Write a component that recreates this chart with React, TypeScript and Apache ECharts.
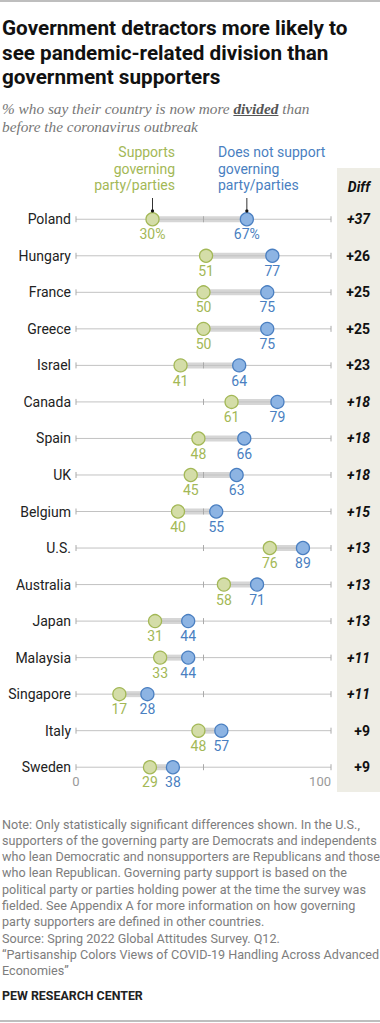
import React, { useEffect, useRef } from "react";
import * as echarts from "echarts";

const countries = ["Poland", "Hungary", "France", "Greece", "Israel", "Canada", "Spain", "UK", "Belgium", "U.S.", "Australia", "Japan", "Malaysia", "Singapore", "Italy", "Sweden"];
const supporters = [30, 51, 50, 50, 41, 61, 48, 45, 40, 76, 58, 31, 33, 17, 48, 29];
const nonSupporters = [67, 77, 75, 75, 64, 79, 66, 63, 55, 89, 71, 44, 44, 28, 57, 38];
const diffs = ["+37", "+26", "+25", "+25", "+23", "+18", "+18", "+18", "+15", "+13", "+13", "+13", "+11", "+11", "+9", "+9"];
const diffItalic = [true, false, false, false, false, true, true, true, true, true, true, true, true, true, false, false];
const axisTicks = [0, 50, 100];

const titleLines = [
  "Government detractors more likely to",
  "see pandemic-related division than",
  "government supporters",
];
const noteLines = [
  "Note: Only statistically significant differences shown. In the U.S.,",
  "supporters of the governing party are Democrats and independents",
  "who lean Democratic and nonsupporters are Republicans and those",
  "who lean Republican. Governing party support is based on the",
  "political party or parties holding power at the time the survey was",
  "fielded. See Appendix A for more information on how governing",
  "party supporters are defined in other countries.",
  "Source: Spring 2022 Global Attitudes Survey. Q12.",
  "\u201cPartisanship Colors Views of COVID-19 Handling Across Advanced",
  "Economies\u201d",
];
const legendGreen = ["Supports", "governing", "party/parties"];
const legendBlue = ["Does not support", "governing", "party/parties"];

const GREEN = "#a3b856";
const GREEN_FILL = "#d4dda8";
const BLUE = "#4a7fc1";
const BLUE_FILL = "#8db4e3";
const SANS = "Roboto";

const GRID_LEFT = 76;
const GRID_RIGHT_X = 331;
const GRID_TOP = 201;
const ROW_H = 36.53;

function measure(text: string, font: string): number {
  const c = document.createElement("canvas").getContext("2d");
  if (!c) return text.length * 7;
  c.font = font;
  return c.measureText(text).width;
}

export default function App() {
  const ref = useRef<HTMLDivElement>(null);
  useEffect(() => {
    document.body.style.margin = "0";
    if (!ref.current) return;
    const chart = echarts.init(ref.current, undefined, { renderer: "svg" });
    const gridW = GRID_RIGHT_X - GRID_LEFT;
    const xOf = (v: number) => GRID_LEFT + (v / 100) * gridW;

    const subFont = 'italic 15.3px "Liberation Serif"';
    const subBoldFont = 'italic bold 15.3px "Liberation Serif"';
    const prefix = "% who say their country is now more ";
    const ulStart = 2 + measure(prefix, subFont);
    const ulEnd = ulStart + measure("divided", subBoldFont);

    const graphics: any[] = [];
    graphics.push({ type: "line", shape: { x1: 0, y1: 1, x2: 380, y2: 1 }, style: { stroke: "#a8a8a8", lineWidth: 1.5 } });
    graphics.push({ type: "line", shape: { x1: 0, y1: 1021, x2: 380, y2: 1021 }, style: { stroke: "#a8a8a8", lineWidth: 1.5 } });
    titleLines.forEach((t, i) => {
      graphics.push({
        type: "text",
        style: { text: t, x: 2, y: 28 + i * 24.7, textVerticalAlign: "middle", fill: "#111", font: `bold 20.7px ${SANS}` },
      });
    });
    graphics.push({
      type: "text",
      style: {
        text: "% who say their country is now more {b|divided} than",
        x: 2, y: 108, textVerticalAlign: "middle", fill: "#767676", font: subFont,
        rich: { b: { fontWeight: "bold", fontStyle: "italic", fontFamily: "Liberation Serif", fontSize: 15.3, fill: "#555" } },
      },
    });
    graphics.push({ type: "line", shape: { x1: ulStart, y1: 115.5, x2: ulEnd, y2: 115.5 }, style: { stroke: "#555", lineWidth: 1.2 } });
    graphics.push({
      type: "text",
      style: { text: "before the coronavirus outbreak", x: 2, y: 126.5, textVerticalAlign: "middle", fill: "#767676", font: subFont },
    });
    legendGreen.forEach((t, i) => {
      graphics.push({ type: "text", style: { text: t, x: 175, y: 152 + i * 16.6, textAlign: "right", textVerticalAlign: "middle", fill: GREEN, font: `14px ${SANS}` } });
    });
    legendBlue.forEach((t, i) => {
      graphics.push({ type: "text", style: { text: t, x: 218, y: 152 + i * 16.6, textAlign: "left", textVerticalAlign: "middle", fill: BLUE, font: `14px ${SANS}` } });
    });
    [supporters[0], nonSupporters[0]].forEach((v) => {
      const x = xOf(v);
      graphics.push({ type: "line", shape: { x1: x, y1: 198, x2: x, y2: 211 }, style: { stroke: "#333", lineWidth: 1 }, z: 10 });
      graphics.push({ type: "circle", shape: { cx: x, cy: 211, r: 1.6 }, style: { fill: "#111" }, z: 10 });
    });
    // Diff panel
    graphics.push({ type: "rect", shape: { x: 337, y: 168, width: 43, height: 624 }, style: { fill: "#eeede5" }, z: -10 });
    graphics.push({ type: "text", style: { text: "Diff", x: 370, y: 187, textAlign: "right", textVerticalAlign: "middle", fill: "#111", font: `italic bold 14px ${SANS}` } });
    noteLines.forEach((t, i) => {
      graphics.push({ type: "text", style: { text: t, x: 2, y: 824 + i * 16.3, textVerticalAlign: "middle", fill: "#7d7d7d", font: `12.6px ${SANS}` } });
    });
    graphics.push({ type: "text", style: { text: "PEW RESEARCH CENTER", x: 2, y: 995, textVerticalAlign: "middle", fill: "#222", font: `bold 12.4px ${SANS}` } });

    const rowData = countries.map((c, i) => [i, supporters[i], nonSupporters[i]]);

    chart.setOption({
      animation: false,
      grid: { left: GRID_LEFT, width: gridW, top: GRID_TOP, height: ROW_H * countries.length },
      xAxis: {
        type: "value", min: 0, max: 100, interval: 50, offset: -12,
        axisLine: { show: false }, axisTick: { show: false }, splitLine: { show: false },
        axisLabel: {
          color: "#9a9a9a", fontSize: 13, fontFamily: SANS, margin: 2,
          alignMinLabel: "center", alignMaxLabel: "right",
          formatter: (v: number) => (v === 0 || v === 100 ? String(v) : ""),
        },
      },
      yAxis: [
        {
          type: "category", data: countries, inverse: true,
          axisLine: { show: false }, axisTick: { show: false },
          axisLabel: { color: "#222", fontSize: 14, fontFamily: SANS, margin: 5 },
        },
        {
          type: "category", data: diffs, inverse: true, position: "right",
          axisLine: { show: false }, axisTick: { show: false },
          axisLabel: {
            margin: 39, align: "right",
            formatter: (v: string, i: number) => (diffItalic[i] ? `{i|${v}}` : `{u|${v}}`),
            rich: {
              i: { fontStyle: "italic", fontWeight: "bold", fontSize: 14, fontFamily: SANS, color: "#111" },
              u: { fontStyle: "normal", fontWeight: "bold", fontSize: 14, fontFamily: SANS, color: "#111" },
            },
          },
        },
      ],
      graphic: graphics,
      series: [
        {
          type: "custom",
          data: rowData,
          encode: { y: 0, x: [1, 2] },
          z: 1,
          renderItem: (params: any, api: any) => {
            const idx = api.value(0);
            const g = api.value(1);
            const b = api.value(2);
            const p0 = api.coord([axisTicks[0], idx]);
            const p100 = api.coord([axisTicks[2], idx]);
            const y = p0[1];
            const pg = api.coord([g, idx]);
            const pb = api.coord([b, idx]);
            const children: any[] = [
              { type: "line", shape: { x1: pg[0], y1: y, x2: pb[0], y2: y }, style: { stroke: "#d6d6d6", lineWidth: 6 } },
              { type: "line", shape: { x1: p0[0], y1: y, x2: p100[0], y2: y }, style: { stroke: "#c2c2c2", lineWidth: 1 } },
            ];
            axisTicks.forEach((t) => {
              const p = api.coord([t, idx]);
              children.push({ type: "line", shape: { x1: p[0], y1: y - 3, x2: p[0], y2: y + 3 }, style: { stroke: "#aaaaaa", lineWidth: 1 } });
            });
            return { type: "group", children };
          },
        },
        {
          type: "scatter",
          z: 3,
          data: supporters.map((v, i) => [v, i]),
          symbolSize: 13,
          itemStyle: { color: GREEN_FILL, borderColor: GREEN, borderWidth: 1.3, opacity: 1 },
          label: {
            show: true, position: "bottom", distance: 1, color: GREEN, fontSize: 14, fontFamily: SANS,
            formatter: (p: any) => (p.dataIndex === 0 ? `${p.value[0]}%` : `${p.value[0]}`),
          },
        },
        {
          type: "scatter",
          z: 3,
          data: nonSupporters.map((v, i) => [v, i]),
          symbolSize: 13,
          itemStyle: { color: BLUE_FILL, borderColor: BLUE, borderWidth: 1.3, opacity: 1 },
          label: {
            show: true, position: "bottom", distance: 1, color: BLUE, fontSize: 14, fontFamily: SANS,
            formatter: (p: any) => (p.dataIndex === 0 ? `${p.value[0]}%` : `${p.value[0]}`),
          },
        },
      ],
    });
    return () => chart.dispose();
  }, []);
  return <div ref={ref} style={{ width: 380, height: 1023 }} />;
}
